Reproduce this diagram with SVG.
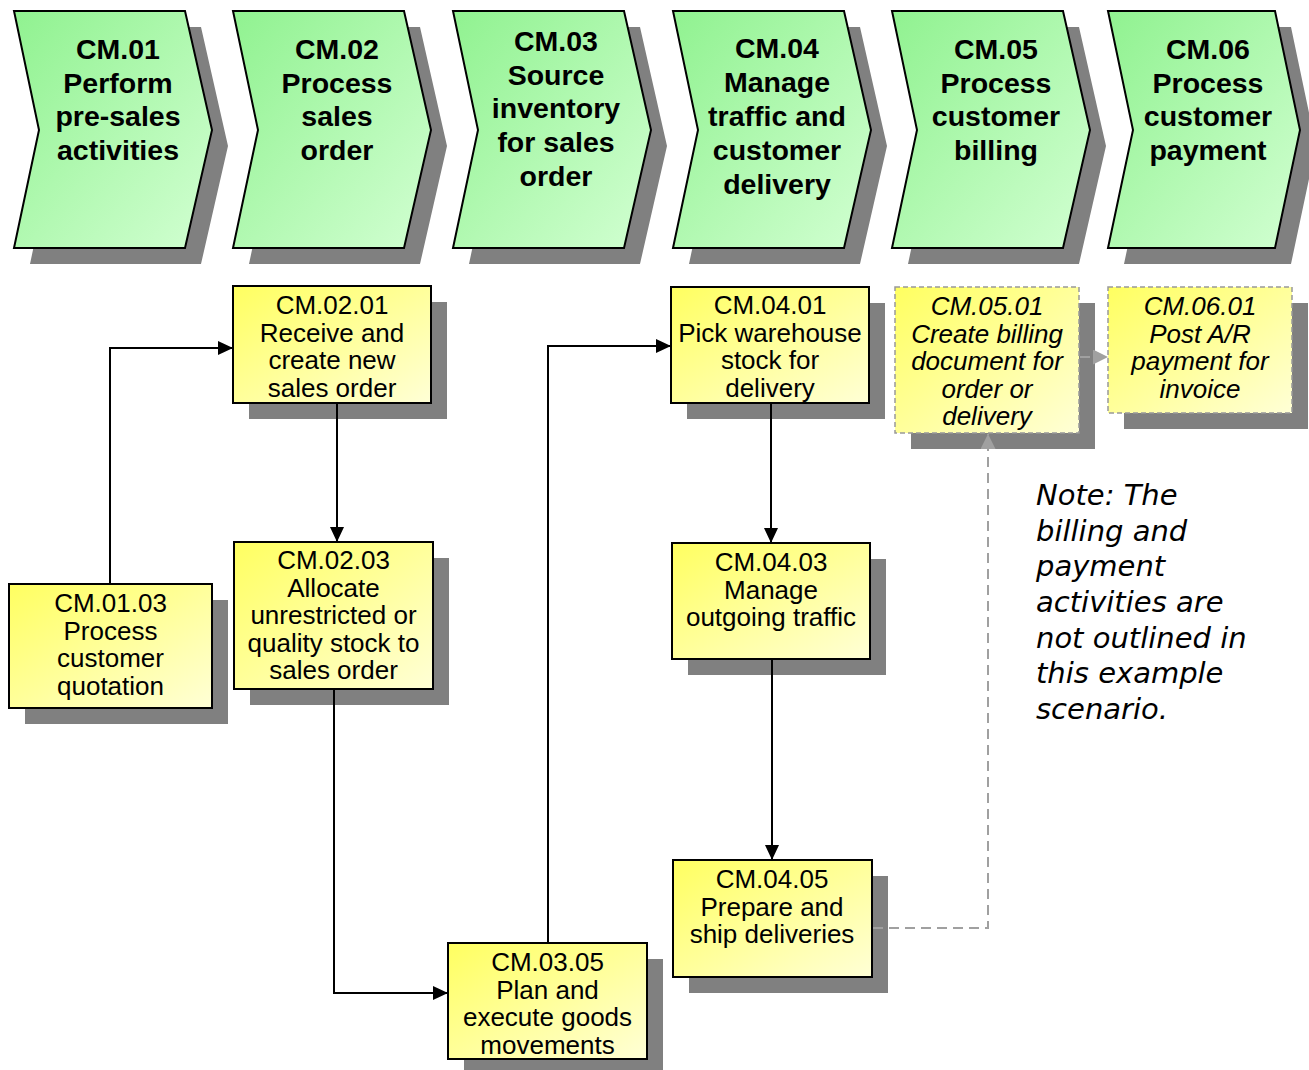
<svg xmlns="http://www.w3.org/2000/svg" width="1309" height="1070" viewBox="0 0 1309 1070">
<style>
  .shadow { fill: #808080; }
  .chev { stroke: #000; stroke-width: 2; fill: url(#gGreen); stroke-linejoin: miter; }
  .box { stroke: #000; stroke-width: 2; fill: url(#gYellow); }
  .dbox { stroke: #999; stroke-width: 1.5; stroke-dasharray: 5 3; fill: url(#gYellow); }
  .ct { font-family: "Liberation Sans", Arial, sans-serif; font-weight: bold; font-size: 28.5px; text-anchor: middle; fill: #000; }
  .bt { font-family: "Liberation Sans", Arial, sans-serif; font-size: 26px; text-anchor: middle; fill: #000; }
  .it { font-style: italic; }
  .note { font-family: "DejaVu Sans", Verdana, sans-serif; font-style: italic; font-size: 29px; fill: #000; }
  .conn { fill: none; stroke: #000; stroke-width: 2; }
  .dconn { fill: none; stroke: #A0A0A0; stroke-width: 2; stroke-dasharray: 10 6; }
</style>
<defs>
  <linearGradient id="gGreen" x1="0" y1="0" x2="1" y2="1">
    <stop offset="0" stop-color="#90F290"/>
    <stop offset="1" stop-color="#D2FFD2"/>
  </linearGradient>
  <linearGradient id="gYellow" x1="0" y1="0" x2="1" y2="1">
    <stop offset="0" stop-color="#FFFF60"/>
    <stop offset="1" stop-color="#FFFFD6"/>
  </linearGradient>
  <marker id="arr" viewBox="0 0 15 14" refX="15" refY="7" markerWidth="15" markerHeight="14" markerUnits="userSpaceOnUse" orient="auto">
    <path d="M0,0 L15,7 L0,14 z" fill="#000"/>
  </marker>
  <marker id="garr" viewBox="0 0 15 15" refX="15" refY="7.5" markerWidth="15" markerHeight="15" markerUnits="userSpaceOnUse" orient="auto">
    <path d="M0,0 L15,7.5 L0,15 z" fill="#A0A0A0"/>
  </marker>
  <clipPath id="c0401"><rect x="671" y="287" width="198" height="116"/></clipPath>
  <clipPath id="c0501"><rect x="895" y="287" width="184" height="146"/></clipPath>
</defs>

<!-- Chevrons -->
<g id="CM01">
  <polygon class="shadow" points="30,27 201,27 228,146 201,264 30,264 55,146"/>
  <polygon class="chev" points="14,11 185,11 212,130 185,248 14,248 39,130"/>
  <text class="ct"><tspan x="118" y="59">CM.01</tspan><tspan x="118" y="93">Perform</tspan><tspan x="118" y="126">pre-sales</tspan><tspan x="118" y="160">activities</tspan></text>
</g>
<g id="CM02">
  <polygon class="shadow" points="249,27 420,27 447,146 420,264 249,264 274,146"/>
  <polygon class="chev" points="233,11 404,11 431,130 404,248 233,248 258,130"/>
  <text class="ct"><tspan x="337" y="59">CM.02</tspan><tspan x="337" y="93">Process</tspan><tspan x="337" y="126">sales</tspan><tspan x="337" y="160">order</tspan></text>
</g>
<g id="CM03">
  <polygon class="shadow" points="469,27 640,27 667,146 640,264 469,264 494,146"/>
  <polygon class="chev" points="453,11 624,11 651,130 624,248 453,248 478,130"/>
  <text class="ct"><tspan x="556" y="51">CM.03</tspan><tspan x="556" y="85">Source</tspan><tspan x="556" y="118">inventory</tspan><tspan x="556" y="152">for sales</tspan><tspan x="556" y="186">order</tspan></text>
</g>
<g id="CM04">
  <polygon class="shadow" points="689,27 860,27 887,146 860,264 689,264 714,146"/>
  <polygon class="chev" points="673,11 844,11 871,130 844,248 673,248 698,130"/>
  <text class="ct"><tspan x="777" y="58">CM.04</tspan><tspan x="777" y="92">Manage</tspan><tspan x="777" y="126">traffic and</tspan><tspan x="777" y="160">customer</tspan><tspan x="777" y="194">delivery</tspan></text>
</g>
<g id="CM05">
  <polygon class="shadow" points="908,27 1079,27 1106,146 1079,264 908,264 933,146"/>
  <polygon class="chev" points="892,11 1063,11 1090,130 1063,248 892,248 917,130"/>
  <text class="ct"><tspan x="996" y="59">CM.05</tspan><tspan x="996" y="93">Process</tspan><tspan x="996" y="126">customer</tspan><tspan x="996" y="160">billing</tspan></text>
</g>
<g id="CM06">
  <polygon class="shadow" points="1124,27 1291,27 1316,146 1291,264 1124,264 1149,146"/>
  <polygon class="chev" points="1108,11 1275,11 1300,130 1275,248 1108,248 1133,130"/>
  <text class="ct"><tspan x="1208" y="59">CM.06</tspan><tspan x="1208" y="93">Process</tspan><tspan x="1208" y="126">customer</tspan><tspan x="1208" y="160">payment</tspan></text>
</g>

<!-- Activity boxes -->
<g id="CM0201">
  <rect class="shadow" x="249" y="302" width="198" height="117"/>
  <rect class="box" x="233" y="286" width="198" height="117"/>
  <text class="bt"><tspan x="332" y="314">CM.02.01</tspan><tspan x="332" y="341.5">Receive and</tspan><tspan x="332" y="369">create new</tspan><tspan x="332" y="396.5">sales order</tspan></text>
</g>
<g id="CM0103">
  <rect class="shadow" x="25" y="600" width="203" height="124"/>
  <rect class="box" x="9" y="584" width="203" height="124"/>
  <text class="bt"><tspan x="110.5" y="612">CM.01.03</tspan><tspan x="110.5" y="639.5">Process</tspan><tspan x="110.5" y="667">customer</tspan><tspan x="110.5" y="694.5">quotation</tspan></text>
</g>
<g id="CM0203">
  <rect class="shadow" x="250" y="558" width="199" height="147"/>
  <rect class="box" x="234" y="542" width="199" height="147"/>
  <text class="bt"><tspan x="333.5" y="569">CM.02.03</tspan><tspan x="333.5" y="596.5">Allocate</tspan><tspan x="333.5" y="624">unrestricted or</tspan><tspan x="333.5" y="651.5">quality stock to</tspan><tspan x="333.5" y="679">sales order</tspan></text>
</g>
<g id="CM0305">
  <rect class="shadow" x="464" y="959" width="199" height="116"/>
  <rect class="box" x="448" y="943" width="199" height="116"/>
  <text class="bt"><tspan x="547.5" y="971">CM.03.05</tspan><tspan x="547.5" y="998.5">Plan and</tspan><tspan x="547.5" y="1026">execute goods</tspan><tspan x="547.5" y="1053.5">movements</tspan></text>
</g>
<g id="CM0401">
  <rect class="shadow" x="687" y="303" width="198" height="116"/>
  <rect class="box" x="671" y="287" width="198" height="116"/>
  <text class="bt" clip-path="url(#c0401)"><tspan x="770" y="314">CM.04.01</tspan><tspan x="770" y="341.5">Pick warehouse</tspan><tspan x="770" y="369">stock for</tspan><tspan x="770" y="396.5">delivery</tspan></text>
</g>
<g id="CM0403">
  <rect class="shadow" x="688" y="559" width="198" height="116"/>
  <rect class="box" x="672" y="543" width="198" height="116"/>
  <text class="bt"><tspan x="771" y="571">CM.04.03</tspan><tspan x="771" y="598.5">Manage</tspan><tspan x="771" y="626">outgoing traffic</tspan></text>
</g>
<g id="CM0405">
  <rect class="shadow" x="689" y="876" width="199" height="117"/>
  <rect class="box" x="673" y="860" width="199" height="117"/>
  <text class="bt"><tspan x="772" y="888">CM.04.05</tspan><tspan x="772" y="915.5">Prepare and</tspan><tspan x="772" y="943">ship deliveries</tspan></text>
</g>
<g id="CM0501">
  <rect class="shadow" x="911" y="303" width="184" height="146"/>
  <rect class="dbox" x="895" y="287" width="184" height="146"/>
  <text class="bt it" clip-path="url(#c0501)"><tspan x="987" y="315">CM.05.01</tspan><tspan x="987" y="342.5">Create billing</tspan><tspan x="987" y="370">document for</tspan><tspan x="987" y="397.5">order or</tspan><tspan x="987" y="425">delivery</tspan></text>
</g>
<g id="CM0601">
  <rect class="shadow" x="1124" y="303" width="184" height="126"/>
  <rect class="dbox" x="1108" y="287" width="184" height="126"/>
  <text class="bt it"><tspan x="1200" y="315">CM.06.01</tspan><tspan x="1200" y="342.5">Post A/R</tspan><tspan x="1200" y="370">payment for</tspan><tspan x="1200" y="397.5">invoice</tspan></text>
</g>

<!-- Note -->
<g id="note">
  <text class="note"><tspan x="1036" y="505">Note: The</tspan><tspan x="1036" y="541">billing and</tspan><tspan x="1036" y="576">payment</tspan><tspan x="1036" y="612">activities are</tspan><tspan x="1036" y="648">not outlined in</tspan><tspan x="1036" y="683">this example</tspan><tspan x="1036" y="719">scenario.</tspan></text>
</g>

<!-- Connectors -->
<g id="connectors">
  <path class="conn" d="M110,584 V348 H233" marker-end="url(#arr)"/>
  <path class="conn" d="M337,403 V542" marker-end="url(#arr)"/>
  <path class="conn" d="M334,689 V993 H448" marker-end="url(#arr)"/>
  <path class="conn" d="M548,943 V346 H671" marker-end="url(#arr)"/>
  <path class="conn" d="M771,403 V543" marker-end="url(#arr)"/>
  <path class="conn" d="M772,659 V860" marker-end="url(#arr)"/>
  <path class="dconn" d="M873,928 H988 V434" marker-end="url(#garr)"/>
  <path class="dconn" d="M1080,357 H1108" marker-end="url(#garr)"/>
</g>
</svg>
